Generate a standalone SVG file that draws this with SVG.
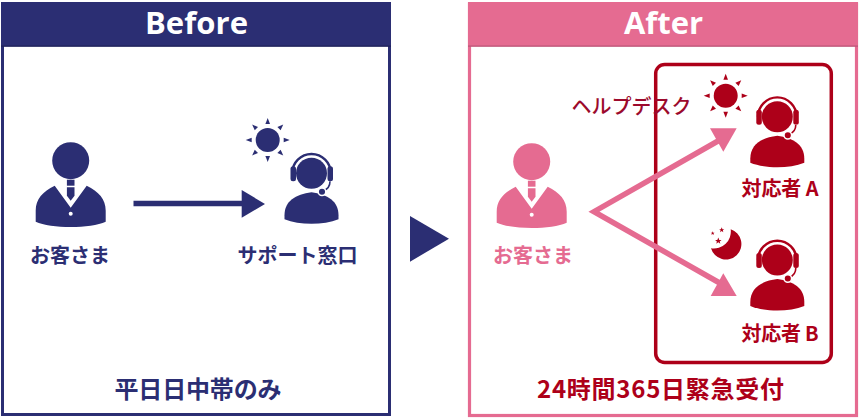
<svg xmlns="http://www.w3.org/2000/svg" xmlns:xlink="http://www.w3.org/1999/xlink" width="859" height="419" viewBox="0 0 859 419">
<style>
text{font-family:"Noto Sans CJK JP","Noto Sans",sans-serif;font-weight:700;text-anchor:middle}
.hd{font-family:"Open Sans","Liberation Sans",sans-serif;font-size:31px;fill:#fff}
.lb{font-size:20px}
.ft{font-size:24px}
.navy{fill:#2b2e73;color:#2b2e73}
.pink{fill:#e56b91;color:#e56b91}
.red{fill:#ad0019;color:#ad0019}
.panel{fill:#fff;stroke-width:3}
</style>
<defs>
<g id="person">
<circle cx="0" cy="0" r="18.5"/>
<path d="M-16,25 L0,47 L16,25 C28,31 35,38 35,50 L35,61 C20,68 -20,68 -35,61 L-35,50 C-35,38 -28,31 -16,25 Z"/>
<rect x="-3.8" y="19" width="7.6" height="6"/>
<path d="M-3.8,26.5 H3.8 V35 L0,40 L-3.8,35 Z"/>
<circle cx="0" cy="53" r="2" fill="#fff"/>
</g>
<g id="agent">
<path d="M-27,42 C-27,28 -16,21 0,19 C16,21 27,28 27,42 L27,46 C12,52 -12,52 -27,46 Z"/>
<circle cx="0" cy="0" r="15.5"/>
<path d="M-19.3,0 A19.3,19.3 0 0 1 19.3,0" fill="none" stroke="currentColor" stroke-width="2.4"/>
<rect x="-21" y="-7" width="5.5" height="15" rx="2.5"/>
<rect x="16" y="-7" width="5.5" height="15" rx="2.5"/>
<path d="M18.5,8 Q18.5,15 12,17.5" fill="none" stroke="#fff" stroke-width="3.5"/>
<path d="M18.5,8 Q18.5,15 12,17.5" fill="none" stroke="currentColor" stroke-width="1.6"/>
<circle cx="10.5" cy="18.5" r="3.8" stroke="#fff" stroke-width="1.5"/>
</g>
<g id="sun">
<circle cx="0" cy="0" r="12"/>
<path id="ray" d="M-2.3,-16 H2.3 L0,-22 Z"/>
<use href="#ray" transform="rotate(45)"/>
<use href="#ray" transform="rotate(90)"/>
<use href="#ray" transform="rotate(135)"/>
<use href="#ray" transform="rotate(180)"/>
<use href="#ray" transform="rotate(225)"/>
<use href="#ray" transform="rotate(270)"/>
<use href="#ray" transform="rotate(315)"/>
</g>
<polygon id="star" points="0,-1 0.29,-0.31 0.95,-0.31 0.42,0.12 0.59,0.81 0,0.4 -0.59,0.81 -0.42,0.12 -0.95,-0.31 -0.29,-0.31"/>
</defs>

<g id="before-panel" class="navy">
<rect class="panel" x="2.5" y="4" width="387" height="410.5" stroke="#2b2e73"/>
<rect x="1" y="2" width="390" height="44.5"/>
<rect x="1" y="45.5" width="390" height="1.2" fill="#1e2058"/>
<text class="hd" x="196.5" y="33.5" textLength="103">Before</text>
<text class="ft" x="198" y="398" textLength="167">平日日中帯のみ</text>
</g>

<g id="after-panel" class="pink">
<rect class="panel" x="469.5" y="4" width="387" height="411.5" stroke="#e56b91" style="stroke-width:3.2"/>
<rect x="468" y="2" width="390" height="44.5"/>
<rect x="468" y="45.5" width="390" height="1.2" fill="#b95577"/>
<text class="hd" x="663.5" y="33.5" textLength="79">After</text>
</g>
<text class="ft red" x="660.5" y="398" textLength="247" id="after-caption">24時間365日緊急受付</text>

<g id="helpdesk">
<rect x="655.7" y="64.5" width="175.6" height="298" rx="9" fill="none" stroke="#ad0019" stroke-width="3.5"/>
<text class="lb" x="631.5" y="114" style="font-weight:500;fill:#9c0a2c">ヘルプデスク</text>
</g>

<g id="customer-before" class="navy">
<use href="#person" x="70.7" y="160.7"/>
<text class="lb" x="70" y="263">お客さま</text>
</g>
<g id="support-desk" class="navy">
<use href="#sun" x="267.7" y="140"/>
<use href="#agent" x="311.5" y="173.3"/>
<text class="lb" x="297.5" y="263">サポート窓口</text>
</g>

<g id="customer-after" class="pink">
<use href="#person" x="531.7" y="161.7"/>
<text class="lb" x="533" y="263">お客さま</text>
</g>
<g id="responder-a" class="red">
<use href="#sun" x="725.7" y="95.7"/>
<use href="#agent" x="777.3" y="116.7"/>
<text class="lb" x="780" y="196" textLength="77">対応者 A</text>
</g>
<g id="responder-b" class="red">
<path d="M730.7,229.3 A15.5,15.5 0 1 1 711,248.3 A17,17 0 0 0 730.7,229.3 Z"/>
<use href="#star" transform="translate(721.7,230) scale(2.7)"/>
<use href="#star" transform="translate(712.7,233.3) scale(2)"/>
<use href="#star" transform="translate(718.3,241) scale(3.4)"/>
<use href="#agent" x="777.3" y="260"/>
<text class="lb" x="780" y="341" textLength="77">対応者 B</text>
</g>

<g id="connectors">
<g class="navy">
<path d="M133.5,203.5 H244" fill="none" stroke="#2b2e73" stroke-width="5.5"/>
<polygon points="241.7,190 265,204 241.7,217.7"/>
<polygon points="410,216 449,238.7 410,261.7"/>
</g>
<g class="pink">
<path d="M725,137 L594,211.7 L725,286" fill="none" stroke="#e56b91" stroke-width="5.5"/>
<polygon points="710,128.3 736.7,128.3 723.3,151.7"/>
<polygon points="723.3,273.3 736.7,296 710.7,296"/>
</g>
</g>
</svg>
